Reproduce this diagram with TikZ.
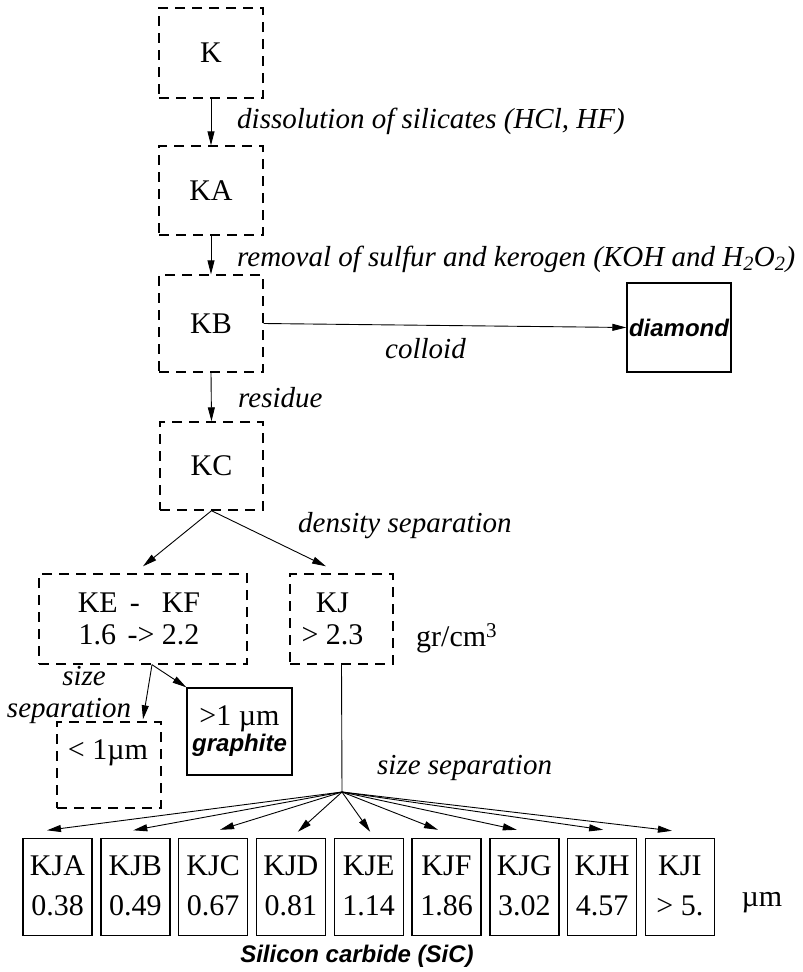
\documentclass[tikz,border=0pt]{standalone}
\usepackage{fontspec}
\setmainfont{Liberation Serif}
\newfontfamily\hsans{Liberation Sans}
\usetikzlibrary{arrows.meta}
\newcommand\myup{\fontsize{30}{32}\selectfont}
\newcommand\myit{\fontsize{29}{34}\selectfont\itshape}
\newcommand\mysb{\hsans\bfseries\itshape\fontsize{24}{28}\selectfont}
\begin{document}
\begin{tikzpicture}[x=1pt,y=-1pt,
  dbox/.style={draw, line width=1.4pt, dash pattern=on 10pt off 7pt, inner sep=0pt, font=\myup, align=center},
  sbox/.style={draw, line width=1.4pt, inner sep=0pt, font=\myup, align=center},
  arr/.style={-{Triangle[length=14pt,width=7pt]}, line width=0.9pt},
  lbl/.style={font=\myit, inner sep=0pt},
  kbox/.style={sbox, minimum width=69pt, minimum height=97pt}
]
\useasboundingbox (0,0) rectangle (803,972);

% main chain
\node[dbox, minimum width=104pt, minimum height=90pt] (K) at (211,53) {K};
\node[dbox, minimum width=104pt, minimum height=89pt] (KA) at (211,190.5) {KA};
\node[dbox, minimum width=104pt, minimum height=97pt] (KB) at (211,323.5) {KB};
\node[dbox, minimum width=103pt, minimum height=88pt] (KC) at (211.5,466) {KC};
\node[sbox, minimum width=104pt, minimum height=89pt] (diam) at (679,327.5) {\raisebox{-5pt}{\mysb diamond}};

\node[dbox, minimum width=208pt, minimum height=90pt] (KEF) at (143,619) {\hspace*{-8pt}KE\hspace{12pt}-\hspace{22pt}KF\\\hspace*{-8pt}1.6\hspace{4pt} -> 2.2};
\node[dbox, minimum width=103pt, minimum height=90pt] (KJ) at (341.5,619) {\hspace*{-18pt}KJ\\\hspace*{-18pt}> 2.3};
\node[font=\myup, anchor=west, inner sep=0pt] (gr) at (416,638) {gr/cm\textsuperscript{3}};

\node[dbox, minimum width=104pt, minimum height=86pt] (lt1) at (109,765) {};
\node[font=\myup, inner sep=0pt] (lt1t) at (108,753) {< 1µm};
\node[sbox, minimum width=105pt, minimum height=87pt] (graph) at (239.5,731.5) {>1 µm\\[-6pt]{\mysb graphite}};

% connectors main chain
\draw[arr] (K.south) -- (KA.north);
\draw[arr] (KA.south) -- (KB.north);
\draw[arr] (KB.south) -- (KC.north);
\draw[arr] (KB.east) -- (diam.west);
\draw[arr] (KC.south) -- ([yshift=7pt]KEF.north);
\draw[arr] (KC.south) -- ([xshift=-15.5pt,yshift=7pt]KJ.north);
\draw[arr] ([xshift=9pt]KEF.south) -- ([xshift=34pt,yshift=2pt]lt1.north);
\draw[arr] ([xshift=9pt]KEF.south) -- (graph.north west);

% labels
\node[lbl, anchor=west] (l1) at (237,121) {dissolution of silicates (HCl, HF)};
\node[lbl, anchor=west] (l2) at (237,259) {removal of sulfur and kerogen (KOH and H\textsubscript{2}O\textsubscript{2})};
\node[lbl, anchor=west] (l3) at (385,349) {colloid};
\node[lbl, anchor=west] (l4) at (238,398) {residue};
\node[lbl, anchor=west] (l5) at (298,526) {density separation};
\node[lbl, anchor=base, text depth=0pt] (l6a) at (84,685) {size};
\node[lbl, anchor=base, text height=14pt] (l6b) at (69,717) {separation};
\node[lbl, anchor=west] (l7) at (377,768) {size separation};

% size fan
\coordinate (fan) at (342,792);
\draw[line width=0.9pt] (KJ.south) -- (fan);

\foreach \n/\lab/\val [count=\i from 0] in {kja/KJA/0.38, kjb/KJB/0.49, kjc/KJC/0.67, kjd/KJD/0.81, kje/KJE/1.14, kjf/KJF/1.86, kjg/KJG/3.02, kjh/KJH/4.57, kji/KJI/{> 5.}}{
  \node[kbox] (\n) at ({57.5+77.8*\i},887) {\raisebox{3pt}{\lab}\\[8pt]\raisebox{3pt}{\val}};
}
\draw[arr] (fan) -- ([xshift=-10.5pt,yshift=7.5pt]kja.north);
\draw[arr] (fan) -- ([xshift=-2pt,yshift=7.5pt]kjb.north);
\draw[arr] (fan) -- ([xshift=7pt,yshift=8pt]kjc.north);
\draw[arr] (fan) -- ([xshift=7pt,yshift=6pt]kjd.north);
\draw[arr] (fan) -- ([xshift=1.5pt,yshift=6pt]kje.north);
\draw[arr] (fan) -- ([xshift=-8.5pt,yshift=8pt]kjf.north);
\draw[arr] (fan) -- ([xshift=-7.5pt,yshift=8pt]kjg.north);
\draw[arr] (fan) -- ([xshift=1pt,yshift=8pt]kjh.north);
\draw[arr] (fan) -- ([xshift=-8pt,yshift=7pt]kji.north);

\node[font=\myup, inner sep=0pt] (um) at (762,903) {µm};
\node[font=\mysb, inner sep=0pt] (sic) at (357,956) {Silicon carbide (SiC)};
\end{tikzpicture}
\end{document}
